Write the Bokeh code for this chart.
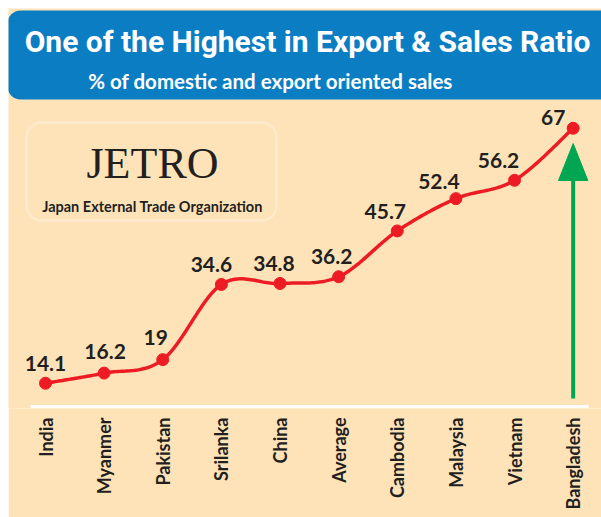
import numpy as np
from bokeh.plotting import figure
from bokeh.models import Range1d, LinearAxis, FixedTicker, Label, BoxAnnotation
from bokeh.core.properties import value
from bokeh.embed import file_html
from bokeh.resources import INLINE

# ---- data ----
countries = ["India", "Myanmer", "Pakistan", "Srilanka", "China", "Average",
             "Cambodia", "Malaysia", "Vietnam", "Bangladesh"]
ratios = [14.1, 16.2, 19, 34.6, 34.8, 36.2, 45.7, 52.4, 56.2, 67]
value_labels = ["14.1", "16.2", "19", "34.6", "34.8", "36.2", "45.7", "52.4", "56.2", "67"]

# ---- styles ----
label_dx = [0, 1, -7, -10, -6, -7, -12, -17, -16, -20]
label_dy = [-20, -22, -22, -20, -20, -20, -19, -17, -20, -11]

BEIGE = "#FEE3B9"
BLUE = "#0B7DC3"
RED = "#ED1C24"
GREEN = "#00A651"
DARK = "#231F20"

W, H = 593, 509
BOTTOM = 109

idx = np.arange(len(countries), dtype=float)
vals = np.array(ratios, dtype=float)


def catmull_rom(x, y, n=30):
    xs, ys = [], []
    N = len(x)
    for i in range(N - 1):
        p0 = i - 1 if i > 0 else i
        p3 = i + 2 if i + 2 < N else i + 1
        mx0 = (x[i + 1] - x[p0]) / 2.0
        my0 = (y[i + 1] - y[p0]) / 2.0
        mx1 = (x[p3] - x[i]) / 2.0
        my1 = (y[p3] - y[i]) / 2.0
        t = np.linspace(0, 1, n, endpoint=(i == N - 2))
        h00 = 2 * t**3 - 3 * t**2 + 1
        h10 = t**3 - 2 * t**2 + t
        h01 = -2 * t**3 + 3 * t**2
        h11 = t**3 - t**2
        xs.extend(h00 * x[i] + h10 * mx0 + h01 * x[i + 1] + h11 * mx1)
        ys.extend(h00 * y[i] + h10 * my0 + h01 * y[i + 1] + h11 * my1)
    return xs, ys


sx, sy = catmull_rom(idx, vals)

p = figure(width=W, height=H, output_backend="svg", toolbar_location=None,
           x_range=Range1d(-0.6311, 9.4832), y_range=Range1d(8.86, 91.85),
           x_axis_type=None, y_axis_type=None,
           min_border_left=0, min_border_right=0, min_border_top=0,
           min_border_bottom=BOTTOM,
           background_fill_color=BEIGE, border_fill_color=BEIGE,
           outline_line_color=None)
p.margin = (8, 0, 0, 8)
p.extra_x_ranges = {"px": Range1d(0, W)}
p.extra_y_ranges = {"px": Range1d(H - BOTTOM, 0)}

# title band
p.add_layout(BoxAnnotation(left=-1, right=W + 20, top=2, bottom=91,
                           x_range_name="px", y_range_name="px",
                           fill_color=BLUE, fill_alpha=1, line_color=None,
                           border_radius=13, level="underlay"))
p.add_layout(Label(x=299, y=33, x_range_name="px", y_range_name="px",
                   text="One of the Highest in Export & Sales Ratio",
                   text_align="center", text_baseline="middle",
                   text_color="white", text_font="Roboto",
                   text_font_style="bold", text_font_size="30px"))
p.add_layout(Label(x=262, y=72, x_range_name="px", y_range_name="px",
                   text="% of domestic and export oriented sales",
                   text_align="center", text_baseline="middle",
                   text_color="white", text_font="Lato",
                   text_font_style="bold", text_font_size="20.5px"))

# JETRO box
p.add_layout(BoxAnnotation(left=18, right=268, top=114, bottom=212,
                           x_range_name="px", y_range_name="px",
                           fill_alpha=0, line_color="white", line_width=2.5,
                           border_radius=15, level="underlay"))
p.add_layout(Label(x=144, y=155, x_range_name="px", y_range_name="px",
                   text="JETRO", text_align="center", text_baseline="middle",
                   text_color=DARK, text_font="Liberation Serif",
                   text_font_size="44px"))
p.add_layout(Label(x=144, y=198, x_range_name="px", y_range_name="px",
                   text="Japan External Trade Organization",
                   text_align="center", text_baseline="middle",
                   text_color=DARK, text_font="Lato",
                   text_font_style="bold", text_font_size="14.5px"))

# baseline
p.segment(x0=[22], y0=[398], x1=[580], y1=[398], x_range_name="px",
          y_range_name="px", line_color="white", line_width=3)

# arrow at the last category
last = [idx[-1]]
p.segment(x0=last, x1=last, y0=[390], y1=[170], y_range_name="px",
          line_color=GREEN, line_width=4)
p.patch(x=[idx[-1] - 0.25, idx[-1], idx[-1] + 0.25], y=[172, 135, 172],
        y_range_name="px", fill_color=GREEN, line_color=GREEN)

# data line
p.line(sx, sy, line_color=RED, line_width=3.5)
p.scatter(idx, vals, size=12, fill_color=RED, line_color=RED)
p.text(x=idx, y=vals, text=value_labels, x_offset=label_dx, y_offset=label_dy,
       text_align="center", text_baseline="middle", text_color=DARK,
       text_font=value("Lato"), text_font_style="bold", text_font_size="21px")

axis = LinearAxis(ticker=FixedTicker(ticks=list(range(len(countries)))),
                  major_label_overrides={i: c for i, c in enumerate(countries)},
                  major_label_orientation=np.pi / 2,
                  axis_line_color=None, major_tick_line_color=None,
                  minor_tick_line_color=None, major_tick_in=0, major_tick_out=0,
                  major_label_standoff=9,
                  major_label_text_font="Lato", major_label_text_font_style="bold",
                  major_label_text_font_size="18px",
                  major_label_text_color=DARK)
p.add_layout(axis, "below")

open("out.html", "w").write(file_html(p, INLINE))
